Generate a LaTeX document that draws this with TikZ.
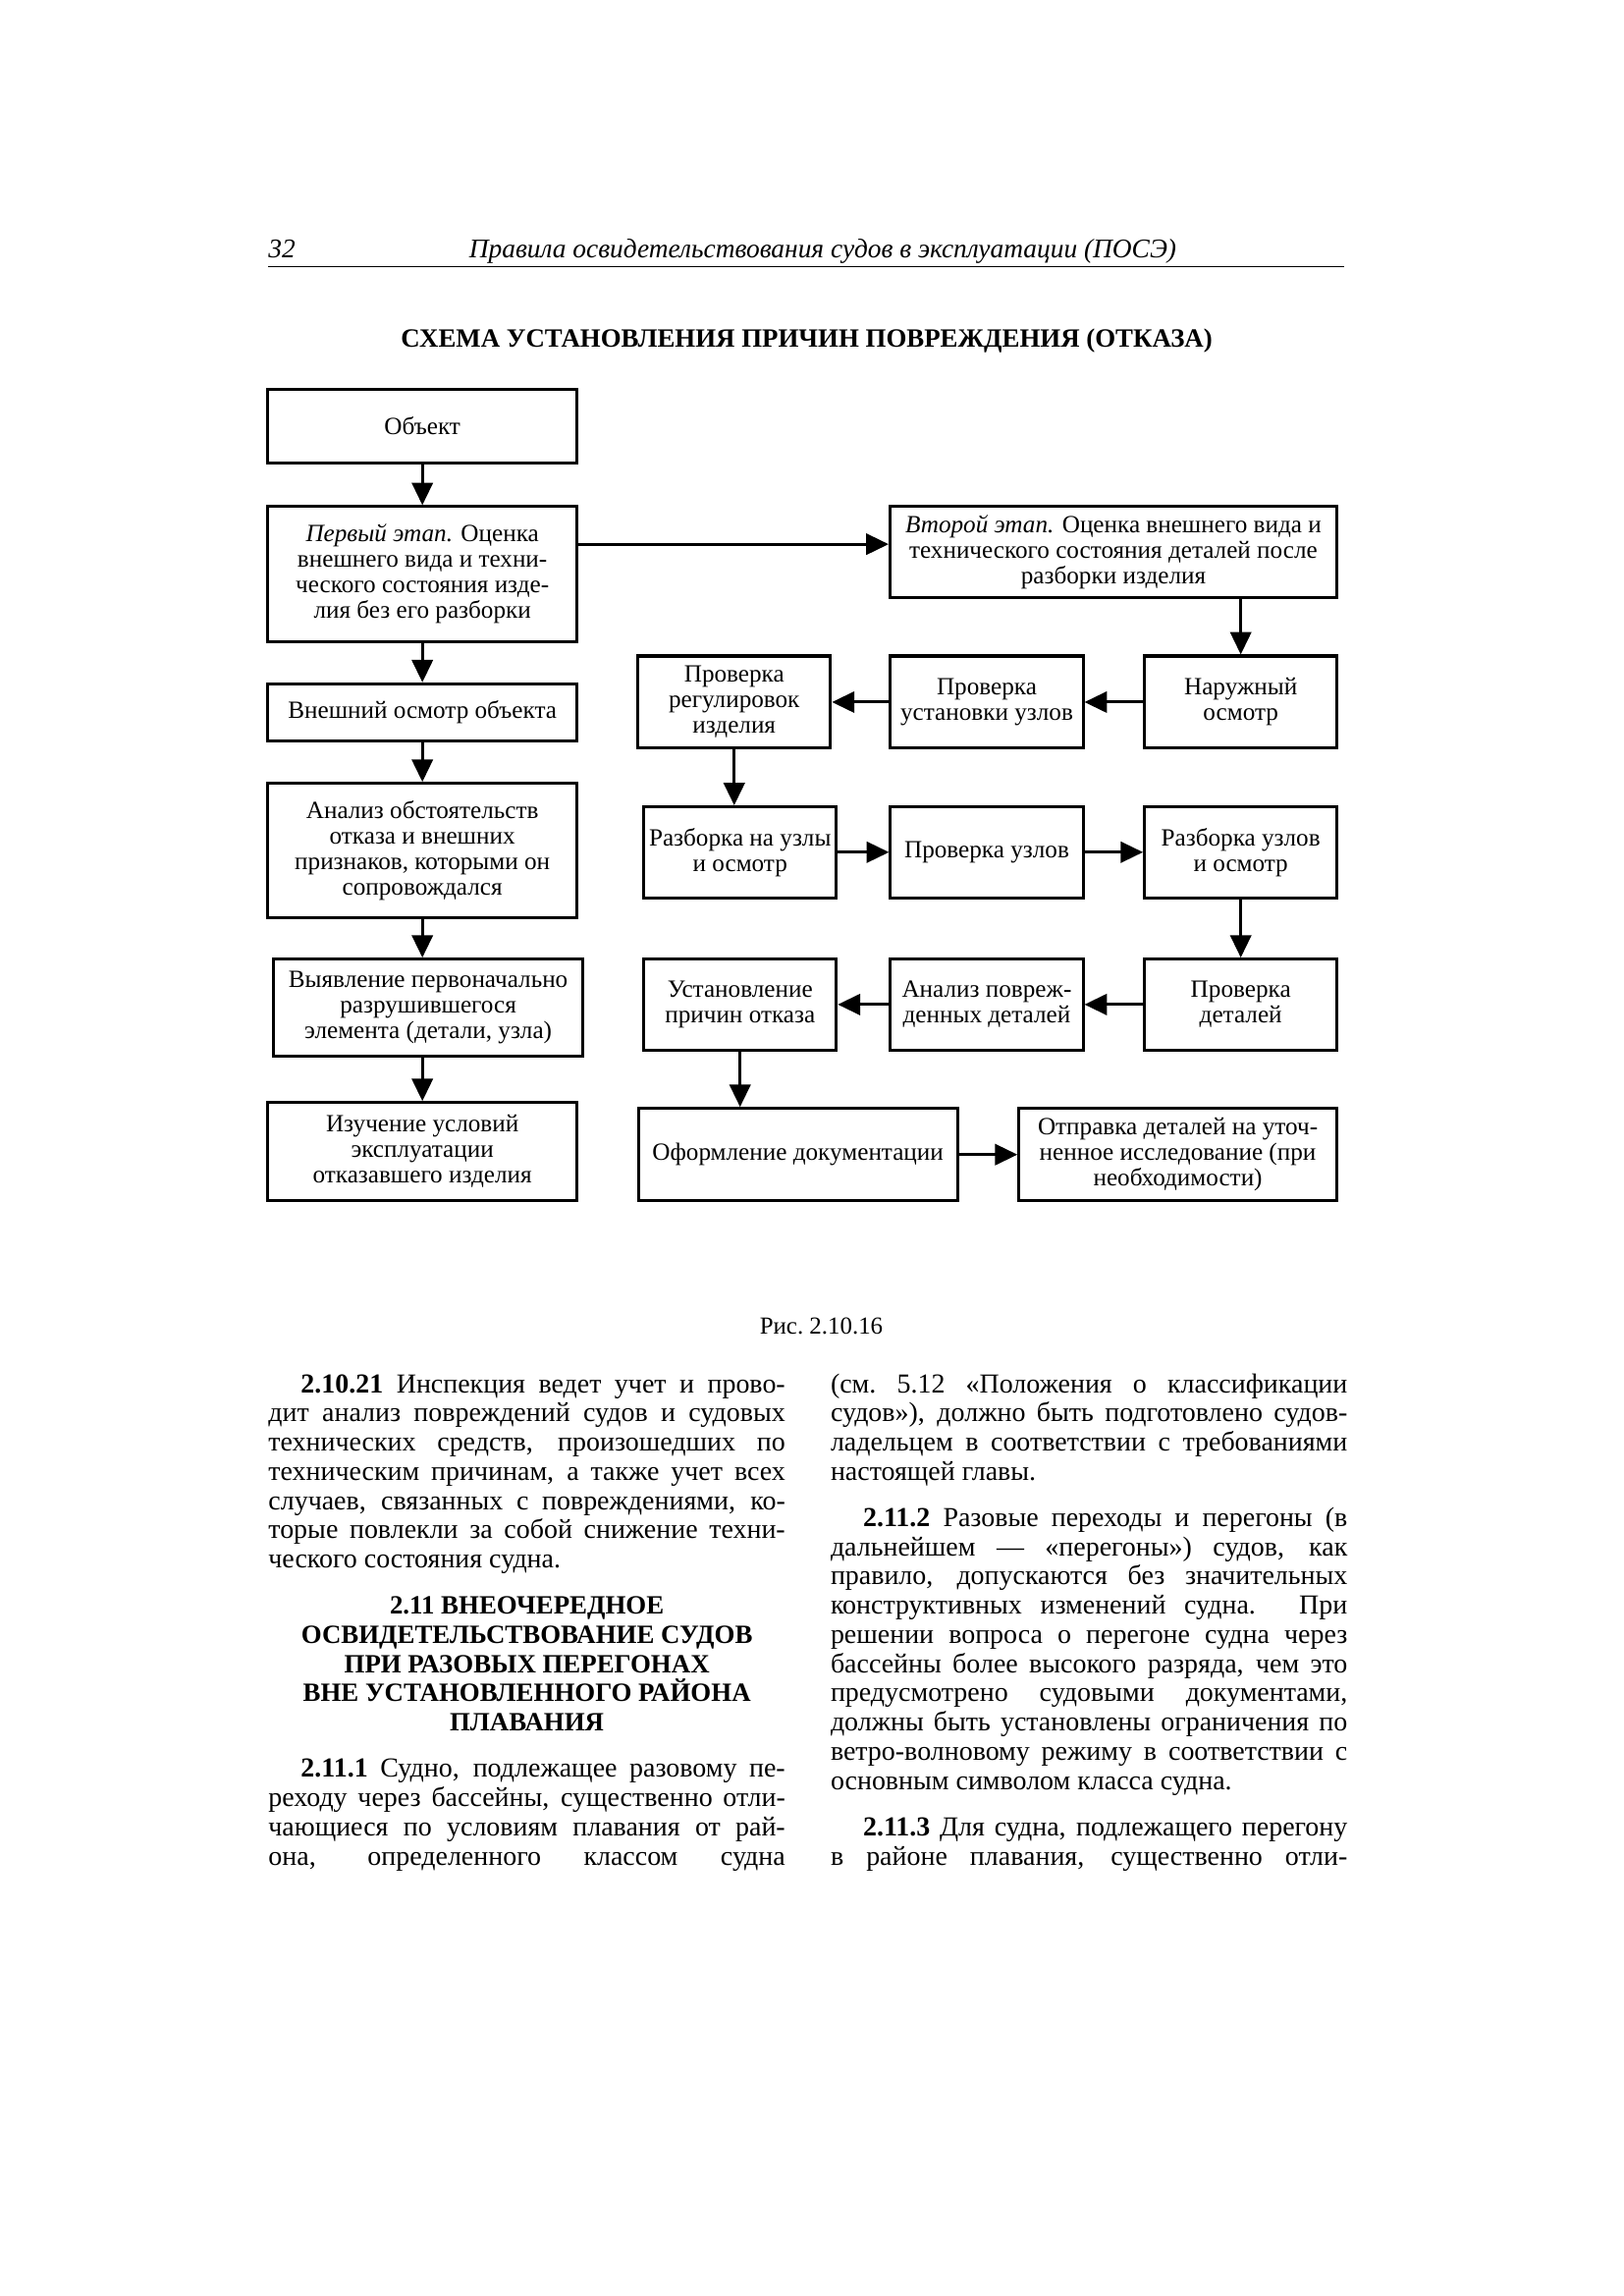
\documentclass[tikz,border=0pt]{standalone}
\usepackage{fontspec}
\setmainfont{Liberation Serif}
\usetikzlibrary{arrows.meta}

\tikzset{
  blok/.style={draw,line width=1.1pt,align=center,inner sep=1pt,
    font=\fontsize{9.1}{9.4}\selectfont},
  levyj/.style={blok,minimum width=39.96mm},
  malyj/.style={blok,minimum width=24.9mm,minimum height=11.93mm},
  arr/.style={-{Triangle[length=2.9mm,width=2.7mm]},line width=1.1pt},
  kolonka/.style={text width=66.85mm,align=justify,inner sep=0pt,anchor=base west,
    font=\fontsize{10.1}{10.75}\selectfont}
}

\begin{document}
\begin{tikzpicture}[x=0.18937mm,y=-0.18937mm]
  \useasboundingbox (0,0) rectangle (1109,1568);
  % header
  \node[anchor=base west,inner sep=0pt,font=\itshape\fontsize{9.9}{12}\selectfont] (nomer) at (183,176) {32};
  \node[anchor=base,inner sep=0pt,font=\itshape\fontsize{9.9}{12}\selectfont] (kolontitul) at (562,176)
    {Правила освидетельствования судов в эксплуатации (ПОСЭ)};
  \draw[line width=0.5pt] (183,182) -- (918,182);
  \node[anchor=base,font=\bfseries\fontsize{9.7}{12}\selectfont] (zagolovok) at (551,237)
    {СХЕМА УСТАНОВЛЕНИЯ ПРИЧИН ПОВРЕЖДЕНИЯ (ОТКАЗА)};

  % left column
  \node[levyj,minimum height=9.47mm] (obj) at (288.5,291) {Объект};
  \node[levyj,minimum height=17.42mm] (perv) at (288.5,392)
    {\textit{Первый этап.} Оценка\\внешнего вида и техни-\\ческого состояния изде-\\лия без его разборки};
  \node[levyj,minimum height=7.39mm] (vnesh) at (288.5,486.5) {Внешний осмотр объекта};
  \node[levyj,minimum height=17.42mm] (anal) at (288.5,581)
    {Анализ обстоятельств\\отказа и внешних\\признаков, которыми он\\сопровождался};
  \node[levyj,minimum height=12.5mm] (vyyav) at (292.5,688)
    {Выявление первоначально\\разрушившегося\\элемента (детали, узла)};
  \node[levyj,minimum height=12.69mm] (izuch) at (288.5,786.5)
    {Изучение условий\\эксплуатации\\отказавшего изделия};

  % right part
  \node[blok,minimum width=57.76mm,minimum height=11.74mm] (vtor) at (760.5,377)
    {\textit{Второй этап.} Оценка внешнего вида и\\технического состояния деталей после\\разборки изделия};
  \node[malyj] (reg) at (501.5,479.5) {Проверка\\регулировок\\изделия};
  \node[malyj] (ustuz) at (674,479.5) {Проверка\\установки узлов};
  \node[malyj] (nar) at (847.5,479.5) {Наружный\\осмотр};
  \node[malyj,minimum height=11.74mm] (razbuz) at (505.5,582) {Разборка на узлы\\и осмотр};
  \node[malyj,minimum height=11.74mm] (provuz) at (674,582) {Проверка узлов};
  \node[malyj,minimum height=11.74mm] (razbuzl) at (847.5,582) {Разборка узлов\\и осмотр};
  \node[malyj,minimum height=11.74mm] (ustpr) at (505.5,686) {Установление\\причин отказа};
  \node[malyj,minimum height=11.74mm] (analpov) at (674,686) {Анализ повреж-\\денных деталей};
  \node[malyj,minimum height=11.74mm] (provdet) at (847.5,686) {Проверка\\деталей};
  \node[blok,minimum width=41.28mm,minimum height=11.93mm] (oform) at (545,788.5)
    {Оформление документации};
  \node[blok,minimum width=41.1mm,minimum height=11.93mm] (otpr) at (804.5,788.5)
    {Отправка деталей на уточ-\\ненное исследование (при\\необходимости)};

  \draw[arr] (obj) -- (perv);
  \draw[arr] (perv) -- (vnesh);
  \draw[arr] (vnesh) -- (anal);
  \draw[arr] (anal.south) -- (anal.south |- vyyav.north);
  \draw[arr] (vyyav.south -| izuch.north) -- (izuch.north);
  \draw[arr] (perv.east |- vtor.178) -- (vtor.178);
  \draw[arr] (vtor.south -| nar.north) -- (nar.north);
  \draw[arr] (nar) -- (ustuz);
  \draw[arr] (ustuz) -- (reg);
  \draw[arr] (reg.south) -- (reg.south |- razbuz.north);
  \draw[arr] (razbuz) -- (provuz);
  \draw[arr] (provuz) -- (razbuzl);
  \draw[arr] (razbuzl) -- (provdet);
  \draw[arr] (provdet) -- (analpov);
  \draw[arr] (analpov) -- (ustpr);
  \draw[arr] (ustpr.south) -- (ustpr.south |- oform.north);
  \draw[arr] (oform) -- (otpr);

  \node[anchor=base,font=\fontsize{9}{10}\selectfont] (podpis) at (561,911) {Рис.~2.10.16};

  % text below
  \node[kolonka] (tekstA) at (183,951) {\setlength{\parskip}{6.3pt}%
    \hspace*{4.2mm}\textbf{2.10.21} Инспекция ведет учет и прово-\linebreak дит анализ повреждений судов и судовых\linebreak технических средств, произошедших по\linebreak техническим причинам, а также учет всех\linebreak случаев, связанных с повреждениями, ко-\linebreak торые повлекли за собой снижение техни-\linebreak ческого состояния судна.\par
    {\centering\bfseries\fontsize{9.7}{10.75}\selectfont 2.11 ВНЕОЧЕРЕДНОЕ\\ОСВИДЕТЕЛЬСТВОВАНИЕ СУДОВ\\ПРИ РАЗОВЫХ ПЕРЕГОНАХ\\ВНЕ УСТАНОВЛЕННОГО РАЙОНА\\ПЛАВАНИЯ\par}
    \hspace*{4.2mm}\textbf{2.11.1} Судно, подлежащее разовому пе-\linebreak реходу через бассейны, существенно отли-\linebreak чающиеся по условиям плавания от рай-\linebreak она, определенного классом судна\parfillskip=0pt\par};
  \node[kolonka] (tekstB) at (567,951) {\setlength{\parskip}{6.3pt}%
    (см.~5.12 «Положения о классификации\linebreak судов»), должно быть подготовлено судов-\linebreak ладельцем в соответствии с требованиями\linebreak настоящей главы.\par
    \hspace*{4.2mm}\textbf{2.11.2} Разовые переходы и перегоны (в\linebreak дальнейшем — «перегоны») судов, как\linebreak правило, допускаются без значительных\linebreak конструктивных изменений судна. При\linebreak решении вопроса о перегоне судна через\linebreak бассейны более высокого разряда, чем это\linebreak предусмотрено судовыми документами,\linebreak должны быть установлены ограничения по\linebreak ветро-волновому режиму в соответствии с\linebreak основным символом класса судна.\par
    \hspace*{4.2mm}\textbf{2.11.3} Для судна, подлежащего перегону\linebreak в районе плавания, существенно отли-\parfillskip=0pt\par};
\end{tikzpicture}
\end{document}
